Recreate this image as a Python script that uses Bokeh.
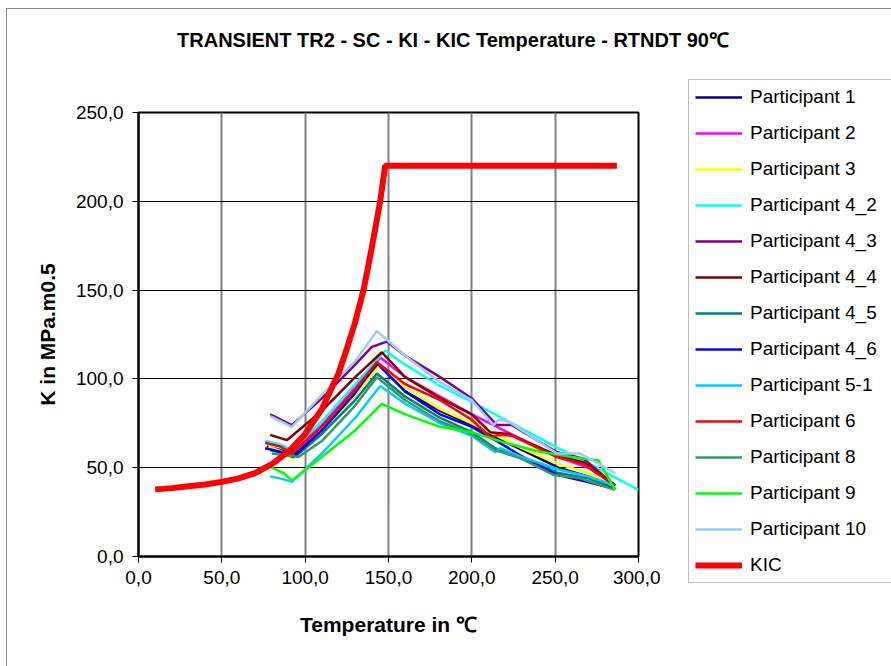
from bokeh.plotting import figure
from bokeh.models import (Range1d, FixedTicker, CustomJSTickFormatter, Legend,
                          LegendItem, Div)
from bokeh.layouts import column, row
from bokeh.embed import file_html
from bokeh.resources import INLINE

TITLE = "TRANSIENT TR2 - SC - KI - KIC Temperature - RTNDT 90\u2103"
X_LABEL = "Temperature in \u2103"
Y_LABEL = "K in MPa.m0.5"

x_ticks = [0, 50, 100, 150, 200, 250, 300]
y_ticks = [0, 50, 100, 150, 200, 250]

names = ["Participant 1", "Participant 2", "Participant 3", "Participant 4_2",
         "Participant 4_3", "Participant 4_4", "Participant 4_5", "Participant 4_6",
         "Participant 5-1", "Participant 6", "Participant 8", "Participant 9",
         "Participant 10"]
colors = ["#000080", "#FF00FF", "#FFFF00", "#00FFFF", "#800080", "#800000",
          "#008080", "#0000FF", "#00CCFF", "#FF0000", "#339966", "#00FF00",
          "#99CCFF"]

p1_t = [77, 85, 93, 110, 130, 144, 160, 181, 200, 215, 230, 252, 270, 286]
p1_k = [62, 60, 57, 71, 91, 108, 93, 82, 74, 67, 60, 50, 45, 38]
p2_t = [77, 85, 92, 110, 130, 145, 160, 181, 200, 215, 230, 252, 270, 286]
p2_k = [64, 62, 59, 74, 95, 112, 101, 90, 80, 73, 66, 56, 50, 40]
p3_t = [78, 86, 92, 110, 130, 145, 160, 181, 200, 215, 230, 252, 270, 286]
p3_k = [62, 59, 55, 70, 91, 108, 95, 83, 75, 68, 61, 52, 47, 39]
p42_t = [76, 85, 92, 110, 130, 148, 160, 181, 200, 229, 252, 275, 300]
p42_k = [65, 63, 60, 76, 97, 116, 108, 96, 87, 72.5, 61, 50, 37.5]
p43_t = [79, 92, 110, 130, 140, 149, 160, 181, 200, 215, 224, 251, 267, 286]
p43_k = [80, 74, 89, 108, 118, 121, 113, 101, 89, 74, 74, 58.7, 55, 40]
p44_t = [79, 89, 110, 130, 146, 160, 181, 200, 211, 222, 251, 267, 286]
p44_k = [68.5, 65.5, 82, 101, 115, 101, 89, 80, 70, 69, 57, 53, 40]
p45_t = [79, 88, 95, 110, 130, 143, 160, 181, 200, 214, 230, 252, 270, 286]
p45_k = [60, 58, 57, 69, 88, 103, 90, 78, 70, 61, 56, 47, 44, 38]
p46_t = [76, 85, 93, 110, 130, 143, 160, 181, 200, 215, 229, 251, 269, 286]
p46_k = [61, 59, 56, 71, 92, 109, 93, 80, 73, 65, 57, 46, 42, 38]
p51_t = [79, 85, 92, 110, 130, 145, 160, 181, 200, 214, 217, 230, 252, 270, 286]
p51_k = [45, 44, 42, 58, 78, 96, 86, 75, 68, 58.7, 61, 56, 49, 45, 40]
p6_t = [76, 85, 92, 110, 130, 143, 160, 181, 200, 211, 216, 224, 251, 267, 286]
p6_k = [64, 62, 58, 73, 94, 109.5, 97, 88, 77, 67, 68.5, 68, 56, 52, 40]
p8_t = [80, 88, 96, 110, 130, 143, 160, 181, 200, 214, 230, 249, 265, 286]
p8_k = [58, 57, 56, 65, 85, 101, 88, 76, 69, 60, 55, 46, 44, 37.5]
p9_t = [80, 87, 92, 110, 130, 146, 160, 181, 200, 220, 241, 260, 276, 286]
p9_k = [50, 47, 42.8, 56, 71, 86, 80, 73, 70, 64, 59, 56, 54, 37.5]
p10_t = [79, 92, 110, 130, 143, 160, 181, 200, 213, 216, 222, 251, 265, 286]
p10_k = [79, 73, 91, 110, 127, 113, 98, 88, 74, 77, 76, 58, 58, 47]

kic_t = [10, 20, 30, 40, 50, 60, 70, 80, 90, 100, 110, 120, 125, 130, 135,
         140, 145, 148, 287]
kic_k = [37.8, 38.5, 39.5, 40.5, 42, 44, 47, 52, 59, 69, 83, 103, 117, 132,
         150, 174, 200, 220, 220]

series_t = [p1_t, p2_t, p3_t, p42_t, p43_t, p44_t, p45_t, p46_t, p51_t,
            p6_t, p8_t, p9_t, p10_t]
series_k = [p1_k, p2_k, p3_k, p42_k, p43_k, p44_k, p45_k, p46_k, p51_k,
            p6_k, p8_k, p9_k, p10_k]

FONT = "Liberation Sans"

# ---- title ----
title_div = Div(
    text=('<div style="box-sizing:border-box; width:891px; padding-left:15px; '
          'padding-top:28px; text-align:center; font-family:\'Liberation Sans\'; '
          'font-weight:bold; font-size:20px; color:black; line-height:24px;">'
          + TITLE + '</div>'),
    width=891, height=70, margin=0)

# ---- main plot ----
p = figure(width=660, height=596, output_backend="svg", toolbar_location=None,
           x_range=Range1d(0, 300), y_range=Range1d(0, 250),
           min_border_left=138, min_border_right=22, min_border_top=42,
           min_border_bottom=110, margin=0)
p.frame_align = False
p.background_fill_color = "white"
p.border_fill_color = None
p.outline_line_color = "black"
p.outline_line_width = 2

fmt = CustomJSTickFormatter(code="return tick.toFixed(1).replace('.', ',');")
for ax, ticks in ((p.xaxis[0], x_ticks), (p.yaxis[0], y_ticks)):
    ax.ticker = FixedTicker(ticks=ticks)
    ax.formatter = fmt
    ax.axis_line_color = "black"
    ax.axis_line_width = 2
    ax.major_tick_line_color = "black"
    ax.major_tick_out = 6
    ax.major_tick_in = 0
    ax.minor_tick_line_color = None
    ax.major_label_text_font = FONT
    ax.major_label_text_font_size = "19px"
    ax.major_label_text_color = "black"
    ax.axis_label_text_font = FONT
    ax.axis_label_text_font_style = "bold"
    ax.axis_label_text_font_size = "21px"
    ax.axis_label_text_color = "black"

p.xaxis.axis_label = X_LABEL
p.yaxis.axis_label = Y_LABEL
p.xaxis.major_label_standoff = 8
p.yaxis.major_label_standoff = 9
p.xaxis.axis_label_standoff = 26
p.yaxis.axis_label_standoff = 14

p.xgrid.grid_line_color = "#808080"
p.xgrid.grid_line_width = 2
p.ygrid.grid_line_color = "black"
p.ygrid.grid_line_width = 1

for col, t, k in zip(colors, series_t, series_k):
    p.line(t, k, line_color=col, line_width=2.5)
p.line(kic_t, kic_k, line_color="#FF0000", line_width=6)

# ---- legend panel: same series, drawn outside its visible range ----
lg = figure(width=231, height=596, output_backend="svg", toolbar_location=None,
            x_range=Range1d(-2, -1), y_range=Range1d(-2, -1),
            x_axis_type=None, y_axis_type=None,
            min_border_left=0, min_border_right=0, min_border_top=0,
            min_border_bottom=0, margin=0)
lg.frame_align = False
lg.outline_line_color = None
lg.background_fill_color = None
lg.border_fill_color = None
lg.xgrid.visible = False
lg.ygrid.visible = False

items = []
for name, col, t, k in zip(names, colors, series_t, series_k):
    r = lg.line(t, k, line_color=col, line_width=2.5)
    items.append(LegendItem(label=name, renderers=[r]))
rk = lg.line(kic_t, kic_k, line_color="#FF0000", line_width=6)
items.append(LegendItem(label="KIC", renderers=[rk]))

legend = Legend(items=items, location=(28, 83))
legend.label_text_font = FONT
legend.label_text_font_size = "19px"
legend.label_text_color = "black"
legend.glyph_width = 47
legend.glyph_height = 20
legend.label_height = 20
legend.label_width = 160
legend.spacing = 14
legend.padding = 6
legend.label_standoff = 8
legend.margin = 0
legend.border_line_color = "#808080"
legend.border_line_width = 1
legend.background_fill_color = "white"
legend.background_fill_alpha = 1
lg.add_layout(legend)

layout = column(title_div, row(p, lg, spacing=0, margin=0), spacing=0,
                width=891, height=666, margin=0)
# outer chart-area border (grey lines at left and top)
layout.styles = {
    "background": ("linear-gradient(#8c8c8c,#8c8c8c) 6px 8px / 1px 660px no-repeat, "
                   "linear-gradient(#8c8c8c,#8c8c8c) 6px 8px / 890px 1px no-repeat, "
                   "white"),
}

open("out.html", "w").write(file_html(layout, INLINE))
